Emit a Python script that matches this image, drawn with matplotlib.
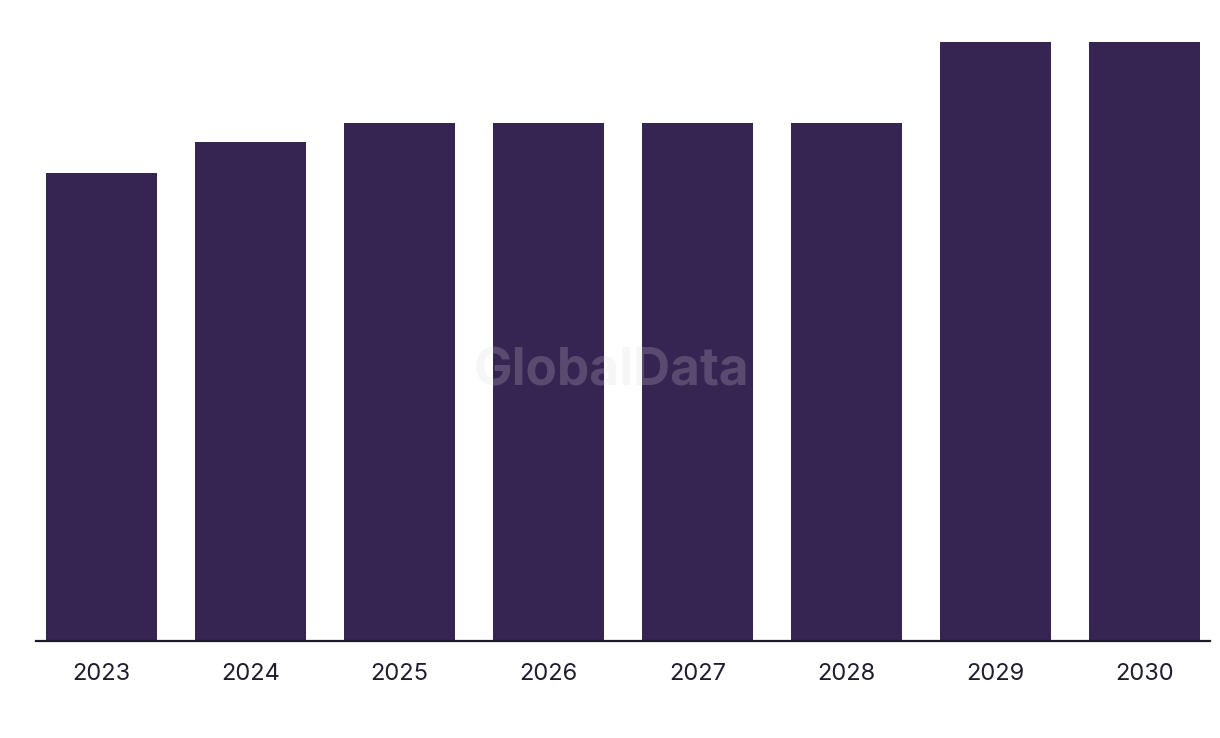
import matplotlib
matplotlib.use("Agg")
import matplotlib.pyplot as plt

years = ["2023", "2024", "2025", "2026", "2027", "2028", "2029", "2030"]
values = [7.81, 8.33, 8.65, 8.65, 8.65, 8.65, 10.0, 10.0]

bar_color = "#362452"

plt.rcParams['font.family'] = ['Inter', 'DejaVu Sans']

fig = plt.figure(figsize=(12.2, 7.38), dpi=100)
W, H = 1220, 738
ax = fig.add_axes([36 / W, 1 - 641 / H, (1210 - 36) / W, (641 - 42) / H])

x = list(range(len(years)))
ax.bar(x, values, width=0.745, color=bar_color, zorder=2)
ax.set_xlim(-0.44, len(years) - 1 + 0.44)
ax.set_ylim(0, 10)
ax.set_xticks(x)
ax.set_xticklabels(years, fontsize=17, color="#1f1d2e")
ax.tick_params(axis="x", length=0, pad=16)
ax.set_yticks([])
for s in ["top", "right", "left"]:
    ax.spines[s].set_visible(False)
ax.spines["bottom"].set_linewidth(1.6)
ax.spines["bottom"].set_color("#1a1a2a")
ax.spines["bottom"].set_zorder(3)

fig.text(611 / W, 1 - 372 / H, "GlobalData", ha="center", va="center",
         fontsize=37, fontweight="bold", color="#d9d9d9", alpha=0.22, zorder=10)

fig.savefig("out.png", dpi=100)
